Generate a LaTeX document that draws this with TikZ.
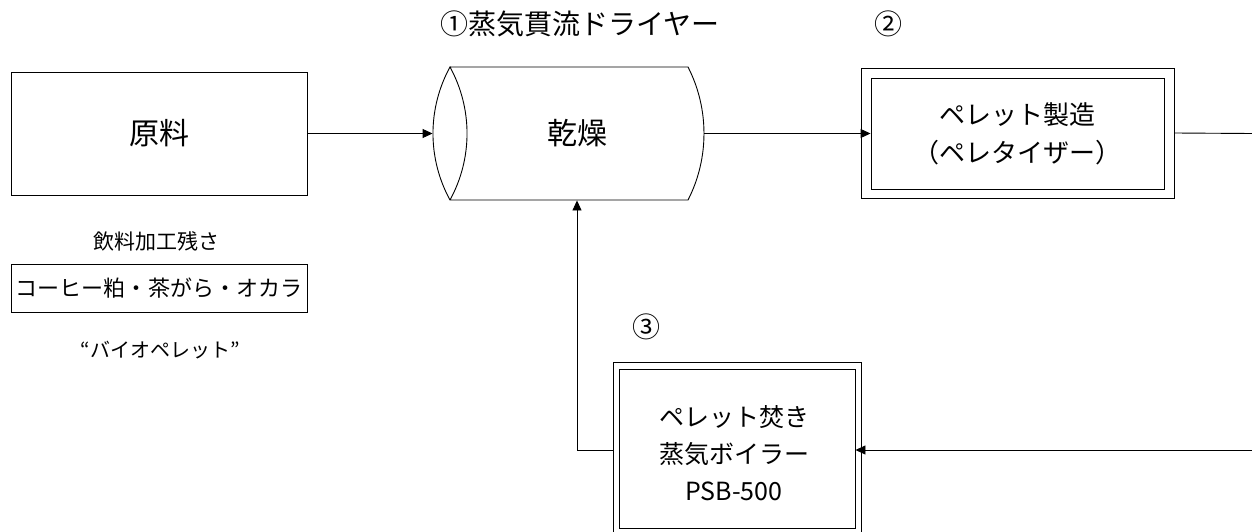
\documentclass[tikz,border=0pt]{standalone}
\usepackage{fontspec}
\setmainfont{Noto Sans CJK JP}
\usetikzlibrary{arrows.meta}
\begin{document}
\begin{tikzpicture}[x=1pt,y=-1pt,
  line width=0.9pt,
  boxn/.style={draw,rectangle,inner sep=0pt},
  arr/.style={-{Triangle[length=10pt,width=9pt]}},
  bigf/.style={font=\fontsize{30}{36}\selectfont},
  midf/.style={font=\fontsize{26}{38}\selectfont},
  titf/.style={font=\fontsize{28}{32}\selectfont},
]
\useasboundingbox (0,0) rectangle (1252,532);

% raw material
\node[boxn,minimum width=296pt,minimum height=123pt,bigf] (raw) at (159,133.5) {原料};

% dryer
\node[minimum width=271pt,minimum height=133pt,inner sep=0pt] (dry) at (568.5,133.5) {};
\node[bigf] (drytxt) at (577,133.5) {乾燥};
\draw (450,67) -- (688,67) .. controls (709.3,108.5) and (709.3,158.5) .. (688,200) -- (450,200)
      .. controls (427.3,158.5) and (427.3,108.5) .. (450,67)
      .. controls (472.7,108.5) and (472.7,158.5) .. (450,200);

% pelletizer
\node[boxn,minimum width=313pt,minimum height=130pt] (pel) at (1017.5,133) {};
\node[boxn,minimum width=293pt,minimum height=111pt,align=center,midf] (pelin) at (1017.5,133.5) {ペレット製造\\（ペレタイザー）};

% boiler
\node[boxn,minimum width=248pt,minimum height=173pt] (boil) at (737,448.5) {};
\node[boxn,minimum width=236pt,minimum height=159pt] (boilin) at (737,448.5) {};
\node[align=center,font=\fontsize{25}{37}\selectfont] (boiltxt) at (734,453) {ペレット焚き\\蒸気ボイラー\\PSB-500};

% labels
\node[titf] (t1) at (580,24) {①蒸気貫流ドライヤー};
\node[titf] (t2) at (888,24) {②};
\node[titf] (t3) at (646,327) {③};

% left notes
\node[font=\fontsize{21}{24}\selectfont] (src) at (156,241) {飲料加工残さ};
\node[boxn,minimum width=296pt,minimum height=48pt,font=\fontsize{22}{26}\selectfont] (cof) at (159,288) {コーヒー粕・茶がら・オカラ};
\node[font=\fontsize{20}{24}\selectfont] (bio) at (160,350) {“バイオペレット”};

% connectors
\coordinate (rout) at (1252,133.5);
\coordinate (rin) at (1252,450);
\draw[arr] (raw.east) -- (dry.west);
\draw[arr] (dry.east) -- (pelin.west);
\draw (pel.east) -- (rout);
\draw[arr] (rin) -- (boilin.east |- rin);
\draw[arr] (boil.west |- rin) -| (drytxt.center |- dry.south);
\end{tikzpicture}
\end{document}
